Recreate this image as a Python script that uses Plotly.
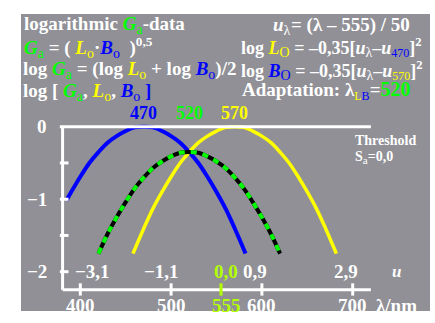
import plotly.graph_objects as go

# wavelengths (nm) and log values
wl_blue = [385, 390, 400, 410, 420, 430, 440, 450, 460, 470, 480,
           490, 500, 510, 520, 530, 540, 550, 560, 570, 580, 582]
log_lo = [-1.01, -0.90, -0.69, -0.50, -0.35, -0.22, -0.13, -0.06, -0.01, 0.0, -0.01,
          -0.06, -0.13, -0.22, -0.35, -0.50, -0.69, -0.90, -1.13, -1.40, -1.69, -1.75]

wl_yellow = [458, 460, 470, 480, 490, 500, 510, 520, 530, 540, 550, 560, 570,
             580, 590, 600, 610, 620, 630, 640, 650, 660, 670, 680, 682]
log_bo = [-1.75, -1.69, -1.40, -1.13, -0.90, -0.69, -0.50, -0.35, -0.22, -0.13, -0.06, -0.01, 0.0,
          -0.01, -0.06, -0.13, -0.22, -0.35, -0.50, -0.69, -0.90, -1.13, -1.40, -1.69, -1.75]

wl_green = [420, 430, 440, 450, 460, 470, 480, 490, 500, 510, 520,
            530, 540, 550, 560, 570, 580, 590, 600, 610, 620]
log_ga = [-1.75, -1.48, -1.25, -1.04, -0.85, -0.70, -0.57, -0.48, -0.41, -0.36, -0.35,
          -0.36, -0.41, -0.48, -0.57, -0.70, -0.85, -1.04, -1.25, -1.48, -1.75]

peak_wl = [470, 520, 570]
peak_labels = ["470", "520", "570"]
lambda_ticks = [400, 500, 555, 600, 700]
lambda_labels = ["400", "500", "555", "600", "700"]
u_labels = ["−3,1", "−1,1", "0,0", "0,9", "2,9"]
y_ticks = [0, -0.5, -1, -1.5, -2]
y_labels = ["0", "", "−1", "", "−2"]

W, H = 435, 323
GREY = "#909096"
BLUE = "#0000ff"
YEL = "#ffff00"
GRN = "#00ff00"
LIME = "#b4ff00"
FONT = "Liberation Serif"
SP = "\u2002"  # wider gap like in the original formulas

def c(t, col):
    return f"<span style='color:{col}'>{t}</span>"

def sub(t, size=14):
    return f"<sub><span style='font-size:{size}px;font-weight:normal'>{t}</span></sub>"

def px(x, y):
    # pixel position -> paper coordinates
    return x / W, 1 - y / H

fig = go.Figure()

fig.add_trace(go.Scatter(x=wl_blue, y=log_lo, mode="lines", line=dict(color=BLUE, width=4, shape="spline")))
fig.add_trace(go.Scatter(x=wl_yellow, y=log_bo, mode="lines", line=dict(color=YEL, width=3.5, shape="spline")))
fig.add_trace(go.Scatter(x=wl_green, y=log_ga, mode="lines", line=dict(color="black", width=4, shape="spline")))
fig.add_trace(go.Scatter(x=wl_green, y=log_ga, mode="lines",
                         line=dict(color=GRN, width=4, shape="spline", dash="6px,6px")))

shapes = [
    dict(type="rect", xref="paper", yref="paper", x0=21 / W, x1=430 / W,
         y0=1 - 311 / H, y1=1 - 14 / H, fillcolor=GREY, line_width=0, layer="below"),
    # threshold line, y axis and wavelength axis
    dict(type="line", x0=377.5, x1=720, y0=0, y1=0, line=dict(color="white", width=3)),
    dict(type="line", x0=380.5, x1=380.5, y0=0, y1=-2.25, line=dict(color="white", width=3)),
    dict(type="line", x0=380.5, x1=720, y0=-2.25, y1=-2.25, line=dict(color="white", width=3)),
]
for v in y_ticks[1:]:
    shapes.append(dict(type="line", x0=377.5, x1=387, y0=v, y1=v, line=dict(color="white", width=3)))
for v in lambda_ticks:
    col = LIME if v == 555 else "white"
    shapes.append(dict(type="line", x0=v, x1=v, y0=-2.16, y1=-2.33, line=dict(color=col, width=3)))

ann = []

def text(x, y, t, size=19, col="white", xa="left", ya="middle", **kw):
    ax, ay = px(x, y)
    ann.append(dict(x=ax, y=ay, xref="paper", yref="paper", text=t, showarrow=False,
                    xanchor=xa, yanchor=ya, font=dict(family=FONT, size=size, color=col), **kw))

G = c("<i>G</i>" + sub("a"), GRN)
L = c("<i>L</i>" + sub("o"), YEL)
B = c("<i>B</i>" + sub("o"), BLUE)

text(22, 25, "<b>logarithmic " + G + "-data</b>")
text(22, 47, "<b>" + G + " = ( " + L + "·" + B + SP + ")<sup>0,5</sup></b>")
text(21, 70, "<b>log " + G + " = (log " + L + " + log " + B + ")/2</b>")
text(21, 92, "<b>log [ " + G + ", " + L + ", " + B + c(" ]", BLUE) + "</b>")

# u_lambda definition, split in two pieces
text(271, 26, "<b><i>u</i>" + sub("λ") + "</b>")
text(289, 25, "<b>= (λ – 555) / 50</b>")
text(239, 47, "<b>log " + c("<i>L</i>" + sub("O"), YEL) + " = –0,35[<i>u</i>" + sub("λ") + "–<i>u</i>"
     + sub(c("470", BLUE), 12) + "]<sup>2</sup></b>", size=18)
text(239, 70, "<b>log " + c("<i>B</i>" + sub("O"), BLUE) + " = –0,35[<i>u</i>" + sub("λ") + "–<i>u</i>"
     + sub(c("570", YEL), 12) + "]<sup>2</sup></b>", size=18)
text(240, 91, "<b>Adaptation: λ" + sub(c("L", YEL) + c("B", BLUE), 12) + "="
     + c("<span style='font-size:20px'>520</span>", GRN) + "</b>")

# peak labels
for wl, lab, col in zip(peak_wl, peak_labels, [BLUE, GRN, YEL]):
    ann.append(dict(x=wl, y=0, yshift=14, text="<b>" + lab + "</b>", showarrow=False,
                    font=dict(family=FONT, size=18, color=col)))

text(353, 141, "<b>Threshold</b>", size=14)
text(353, 157, "<b>S" + sub("a", 11) + "=0,0</b>", size=14)

# y tick labels
for v, lab in zip(y_ticks, y_labels):
    if lab:
        ann.append(dict(x=375, y=v, xanchor="right", text="<b>" + lab + "</b>", showarrow=False,
                        xshift=-9, font=dict(family=FONT, size=19, color="white")))

# u labels and wavelength labels
u_shift = [12, -10, 5, -7, -7]
l_shift = [0, 0, 5, 0, 0]
for v, ul, ll, us, ls in zip(lambda_ticks, u_labels, lambda_labels, u_shift, l_shift):
    col = LIME if v == 555 else "white"
    ann.append(dict(x=v, y=-2.0, xshift=us, text="<b>" + ul + "</b>", showarrow=False,
                    font=dict(family=FONT, size=19, color=col)))
    ann.append(dict(x=v, y=-2.47, xshift=ls, text="<b>" + ll + "</b>", showarrow=False,
                    font=dict(family=FONT, size=19, color=col)))
text(396, 271, "<b><i>u</i></b>", size=17, xa="center")
text(396, 305, "<b>λ/nm</b>", size=19, xa="center")
text(366, 319, "TE300–5N", size=14, col="black", ya="top")

X0 = 400 - 80.3 / 0.908
X1 = 400 + (W - 80.3) / 0.908
Y1 = 126.7 / 72.5
Y0 = -(H - 126.7) / 72.5

fig.update_layout(
    width=W, height=H,
    margin=dict(l=0, r=0, t=0, b=0),
    paper_bgcolor="white", plot_bgcolor="rgba(0,0,0,0)",
    xaxis=dict(range=[X0, X1], visible=False, fixedrange=True),
    yaxis=dict(range=[Y0, Y1], visible=False, fixedrange=True),
    showlegend=False,
    shapes=shapes,
    annotations=ann,
)

fig.write_html("out.html", config={"displayModeBar": False},
               post_script="document.body.style.margin='0';document.body.style.overflow='hidden';")
